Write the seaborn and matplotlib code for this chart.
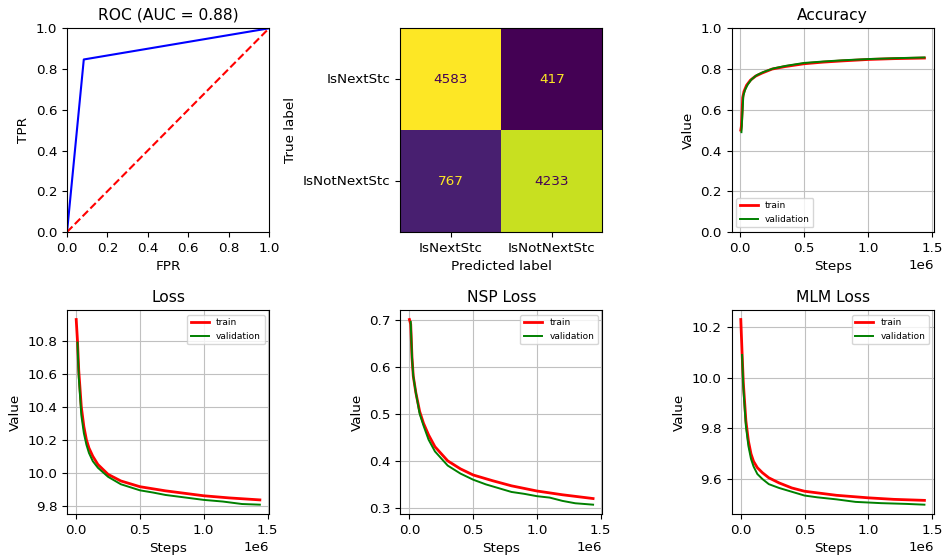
import numpy as np
import seaborn as sns
import matplotlib
matplotlib.use("agg")
import matplotlib.pyplot as plt

plt.rcParams["font.size"] = 9.7
plt.rcParams["axes.titlesize"] = 11.2

# ROC / confusion matrix
fpr = [0.0, 0.083, 1.0]
tpr = [0.0, 0.847, 1.0]
roc_ticks = [0.0, 0.2, 0.4, 0.6, 0.8, 1.0]
cm_labels = ["IsNextStc", "IsNotNextStc"]
cm_values = np.array([[4583, 417], [767, 4233]])

# training curves (steps in units of 1e6)
acc_train_x = [0.005, 0.01, 0.02, 0.03, 0.05, 0.08, 0.12, 0.17, 0.25, 0.35, 0.5, 0.65, 0.8, 1.0, 1.2, 1.44]
acc_train_y = [0.50, 0.52, 0.66, 0.69, 0.72, 0.745, 0.765, 0.78, 0.80, 0.812, 0.826, 0.834, 0.840, 0.847, 0.851, 0.854]
acc_val_x = [0.01, 0.015, 0.025, 0.04, 0.06, 0.09, 0.13, 0.18, 0.26, 0.36, 0.5, 0.65, 0.8, 1.0, 1.2, 1.44]
acc_val_y = [0.49, 0.55, 0.67, 0.70, 0.725, 0.75, 0.77, 0.785, 0.803, 0.816, 0.830, 0.837, 0.843, 0.849, 0.853, 0.857]

loss_train_x = [0.0, 0.01, 0.02, 0.04, 0.06, 0.08, 0.1, 0.13, 0.17, 0.25, 0.35, 0.5, 0.7, 0.85, 1.0, 1.2, 1.44]
loss_train_y = [10.93, 10.80, 10.62, 10.40, 10.28, 10.20, 10.15, 10.10, 10.05, 9.99, 9.95, 9.915, 9.89, 9.875, 9.86, 9.847, 9.835]
loss_val_x = [0.01, 0.02, 0.04, 0.06, 0.08, 0.1, 0.13, 0.17, 0.25, 0.35, 0.5, 0.6, 0.7, 0.85, 1.0, 1.15, 1.3, 1.44]
loss_val_y = [10.79, 10.58, 10.35, 10.24, 10.17, 10.12, 10.07, 10.03, 9.975, 9.93, 9.893, 9.88, 9.865, 9.85, 9.835, 9.825, 9.81, 9.806]

nsp_train_x = [0.0, 0.01, 0.02, 0.03, 0.05, 0.08, 0.11, 0.15, 0.2, 0.25, 0.3, 0.4, 0.5, 0.65, 0.8, 1.0, 1.2, 1.44]
nsp_train_y = [0.700, 0.69, 0.62, 0.58, 0.545, 0.505, 0.48, 0.455, 0.43, 0.415, 0.40, 0.383, 0.37, 0.358, 0.347, 0.336, 0.328, 0.320]
nsp_val_x = [0.01, 0.02, 0.03, 0.05, 0.08, 0.11, 0.15, 0.2, 0.25, 0.3, 0.4, 0.5, 0.6, 0.7, 0.8, 0.9, 1.0, 1.1, 1.2, 1.3, 1.44]
nsp_val_y = [0.695, 0.62, 0.58, 0.545, 0.50, 0.475, 0.445, 0.42, 0.405, 0.39, 0.373, 0.36, 0.35, 0.342, 0.334, 0.33, 0.325, 0.322, 0.315, 0.31, 0.307]

mlm_train_x = [0.0, 0.01, 0.02, 0.04, 0.06, 0.08, 0.1, 0.13, 0.17, 0.22, 0.3, 0.4, 0.5, 0.75, 1.0, 1.2, 1.44]
mlm_train_y = [10.23, 10.10, 9.98, 9.83, 9.75, 9.70, 9.67, 9.645, 9.625, 9.605, 9.585, 9.565, 9.552, 9.536, 9.526, 9.52, 9.516]
mlm_val_x = [0.01, 0.02, 0.04, 0.06, 0.08, 0.1, 0.13, 0.17, 0.22, 0.3, 0.4, 0.5, 0.6, 0.75, 0.9, 1.1, 1.3, 1.44]
mlm_val_y = [10.09, 9.96, 9.81, 9.73, 9.68, 9.65, 9.62, 9.60, 9.58, 9.565, 9.55, 9.535, 9.528, 9.52, 9.51, 9.505, 9.502, 9.499]

fig = plt.figure(figsize=(9.44, 5.55), dpi=100)
cols = [0.071, 0.424, 0.775]
rows = [0.582, 0.074]
w, h = 0.214, 0.367

# ROC
ax = fig.add_axes([cols[0], rows[0], w, h])
sns.lineplot(x=fpr, y=tpr, color="blue", ax=ax, linewidth=1.5, sort=False)
sns.lineplot(x=[0, 1], y=[0, 1], color="red", ax=ax, linewidth=1.5, linestyle="--")
ax.set_xlim(0, 1)
ax.set_ylim(0, 1)
ax.set_xticks(roc_ticks)
ax.set_yticks(roc_ticks)
ax.set_title("ROC (AUC = 0.88)")
ax.set_xlabel("FPR")
ax.set_ylabel("TPR")

# confusion matrix
ax = fig.add_axes([cols[1], rows[0], w, h])
sns.heatmap(cm_values, cmap="viridis", cbar=False, ax=ax, square=False,
            xticklabels=cm_labels, yticklabels=cm_labels)
cmap = plt.get_cmap("viridis")
thresh = (cm_values.min() + cm_values.max()) / 2
for i in range(2):
    for j in range(2):
        v = cm_values[i, j]
        c = cmap(0.0) if v > thresh else cmap(1.0)
        ax.text(j + 0.5, i + 0.5, str(v), ha="center", va="center", color=c, fontsize=9.7)
for s in ax.spines.values():
    s.set_visible(True)
    s.set_linewidth(0.8)
ax.tick_params(axis="y", rotation=0, length=3.5)
ax.tick_params(axis="x", rotation=0, length=3.5)
ax.set_xlabel("Predicted label")
ax.set_ylabel("True label")


def curve(ax, tx, ty, vx, vy, title, loc):
    sns.lineplot(x=np.array(tx) * 1e6, y=ty, color="red", label="train", ax=ax, linewidth=2.0)
    sns.lineplot(x=np.array(vx) * 1e6, y=vy, color="green", label="validation", ax=ax, linewidth=1.4)
    ax.set_title(title)
    ax.set_xlabel("Steps")
    ax.set_ylabel("Value")
    ax.set_xticks([0, 0.5e6, 1.0e6, 1.5e6])
    ax.grid(True, linewidth=0.8, color="#c0c0c0")
    ax.legend(loc=loc, fontsize=6.5)


ax = fig.add_axes([cols[2], rows[0], w, h])
curve(ax, acc_train_x, acc_train_y, acc_val_x, acc_val_y, "Accuracy", "lower left")
ax.set_ylim(0, 1)

ax = fig.add_axes([cols[0], rows[1], w, h])
curve(ax, loss_train_x, loss_train_y, loss_val_x, loss_val_y, "Loss", "upper right")

ax = fig.add_axes([cols[1], rows[1], w, h])
curve(ax, nsp_train_x, nsp_train_y, nsp_val_x, nsp_val_y, "NSP Loss", "upper right")

ax = fig.add_axes([cols[2], rows[1], w, h])
curve(ax, mlm_train_x, mlm_train_y, mlm_val_x, mlm_val_y, "MLM Loss", "upper right")

plt.savefig("out.png", dpi=100)
